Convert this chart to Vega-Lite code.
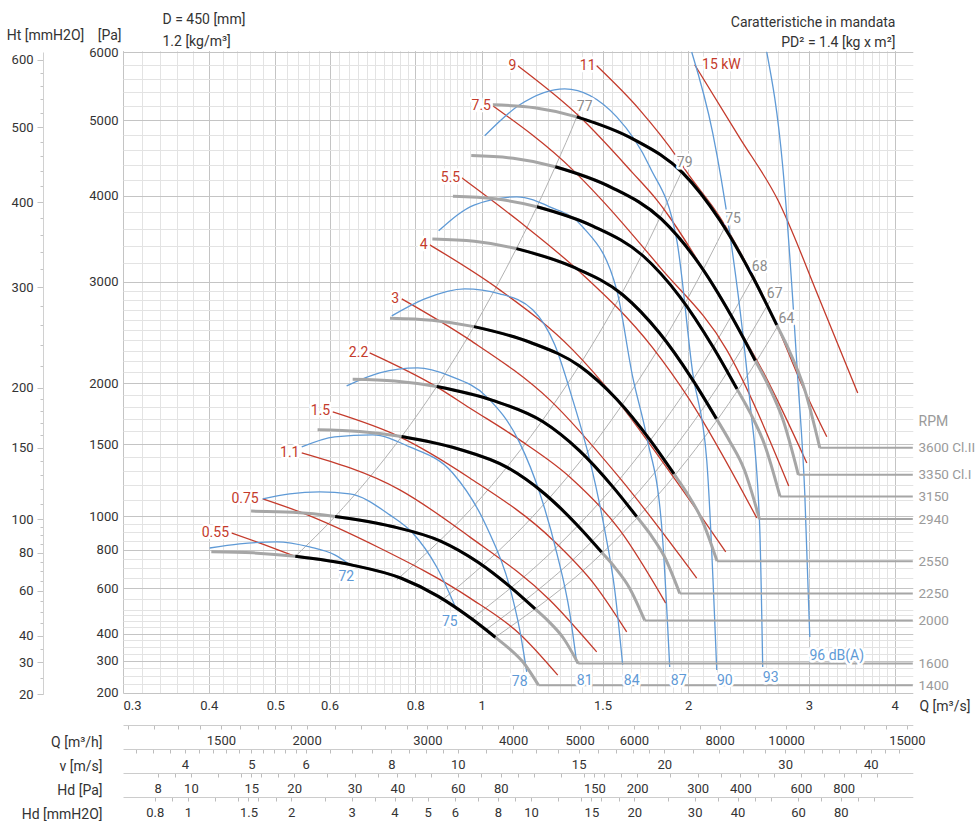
{
"$schema": "https://vega.github.io/schema/vega-lite/v6.json",
"width": 772, "height": 641,
"autosize": {"type": "none"},
"padding": {"left": 123, "top": 52, "right": 81, "bottom": 128},
"background": "white",
"config": {"font": "Roboto", "view": {"stroke": null}, "axis": {"labelFont": "Roboto", "titleFont": "Roboto"}},
"datasets": {
"fan": [
{"r":"3600","q":1.0376,"p":5219},{"r":"3600","q":1.1948,"p":5177},{"r":"3600","q":1.3757,"p":5049},{"r":"3600","q":1.6598,"p":4745},{"r":"3600","q":1.9634,"p":4293},{"r":"3600","q":2.2228,"p":3706},{"r":"3600","q":2.4831,"p":3053},{"r":"3600","q":2.6917,"p":2550},{"r":"3600","q":2.8121,"p":2289},{"r":"3600","q":2.9573,"p":1943},{"r":"3600","q":3.1105,"p":1471},
{"r":"3350","q":0.96554,"p":4519},{"r":"3350","q":1.11183,"p":4483},{"r":"3350","q":1.28016,"p":4373},{"r":"3350","q":1.54454,"p":4108},{"r":"3350","q":1.82705,"p":3717},{"r":"3350","q":2.06844,"p":3210},{"r":"3350","q":2.31066,"p":2643},{"r":"3350","q":2.50478,"p":2208},{"r":"3350","q":2.61682,"p":1982},{"r":"3350","q":2.75193,"p":1683},{"r":"3350","q":2.8945,"p":1273.5},
{"r":"3150","q":0.9079,"p":3995},{"r":"3150","q":1.04545,"p":3963},{"r":"3150","q":1.20374,"p":3866},{"r":"3150","q":1.45233,"p":3632},{"r":"3150","q":1.71798,"p":3287},{"r":"3150","q":1.94495,"p":2838},{"r":"3150","q":2.17271,"p":2337},{"r":"3150","q":2.35524,"p":1952},{"r":"3150","q":2.46059,"p":1752},{"r":"3150","q":2.58764,"p":1488},{"r":"3150","q":2.72169,"p":1126},
{"r":"2940","q":0.84737,"p":3480},{"r":"2940","q":0.97575,"p":3453},{"r":"2940","q":1.12349,"p":3368},{"r":"2940","q":1.3555,"p":3164},{"r":"2940","q":1.60344,"p":2863},{"r":"2940","q":1.81529,"p":2472},{"r":"2940","q":2.02787,"p":2036},{"r":"2940","q":2.19822,"p":1701},{"r":"2940","q":2.29655,"p":1526},{"r":"2940","q":2.41513,"p":1308},{"r":"2940","q":2.54024,"p":980.9},
{"r":"2550","q":0.73497,"p":2618},{"r":"2550","q":0.84632,"p":2597},{"r":"2550","q":0.97446,"p":2533},{"r":"2550","q":1.17569,"p":2380},{"r":"2550","q":1.39074,"p":2154},{"r":"2550","q":1.57448,"p":1860},{"r":"2550","q":1.75886,"p":1532},{"r":"2550","q":1.90662,"p":1280},{"r":"2550","q":1.9919,"p":1148},{"r":"2550","q":2.09476,"p":975},{"r":"2550","q":2.20327,"p":737.9},
{"r":"2250","q":0.6485,"p":2038},{"r":"2250","q":0.74675,"p":2022},{"r":"2250","q":0.85981,"p":1972},{"r":"2250","q":1.03738,"p":1853},{"r":"2250","q":1.22713,"p":1677},{"r":"2250","q":1.38925,"p":1448},{"r":"2250","q":1.55194,"p":1192},{"r":"2250","q":1.68231,"p":996},{"r":"2250","q":1.75756,"p":894},{"r":"2250","q":1.84831,"p":759},{"r":"2250","q":1.94406,"p":574.5},
{"r":"2000","q":0.57644,"p":1611},{"r":"2000","q":0.66378,"p":1598},{"r":"2000","q":0.76428,"p":1558},{"r":"2000","q":0.92211,"p":1464},{"r":"2000","q":1.09078,"p":1325},{"r":"2000","q":1.23489,"p":1144},{"r":"2000","q":1.3795,"p":942},{"r":"2000","q":1.49539,"p":787},{"r":"2000","q":1.56228,"p":706},{"r":"2000","q":1.64294,"p":600},{"r":"2000","q":1.72806,"p":453.9},
{"r":"1600","q":0.46116,"p":1031},{"r":"1600","q":0.53102,"p":1023},{"r":"1600","q":0.61142,"p":997},{"r":"1600","q":0.73769,"p":937},{"r":"1600","q":0.87262,"p":848},{"r":"1600","q":0.98791,"p":732},{"r":"1600","q":1.1036,"p":603},{"r":"1600","q":1.19631,"p":504},{"r":"1600","q":1.24982,"p":452},{"r":"1600","q":1.31436,"p":384},{"r":"1600","q":1.38244,"p":290.5},
{"r":"1400","q":0.40351,"p":789},{"r":"1400","q":0.46464,"p":783},{"r":"1400","q":0.53499,"p":764},{"r":"1400","q":0.64548,"p":718},{"r":"1400","q":0.76354,"p":649},{"r":"1400","q":0.86442,"p":561},{"r":"1400","q":0.96565,"p":462},{"r":"1400","q":1.04677,"p":386},{"r":"1400","q":1.09359,"p":346},{"r":"1400","q":1.15006,"p":294},{"r":"1400","q":1.20964,"p":222.4}
],
"blk": [
{"r":"3600","q":1.3757,"p":5049},{"r":"3600","q":1.6598,"p":4745},{"r":"3600","q":1.9634,"p":4293},{"r":"3600","q":2.2228,"p":3706},{"r":"3600","q":2.4831,"p":3053},{"r":"3600","q":2.6917,"p":2550},
{"r":"3350","q":1.28016,"p":4373},{"r":"3350","q":1.54454,"p":4108},{"r":"3350","q":1.82705,"p":3717},{"r":"3350","q":2.06844,"p":3210},{"r":"3350","q":2.31066,"p":2643},{"r":"3350","q":2.50478,"p":2208},
{"r":"3150","q":1.20374,"p":3866},{"r":"3150","q":1.45233,"p":3632},{"r":"3150","q":1.71798,"p":3287},{"r":"3150","q":1.94495,"p":2838},{"r":"3150","q":2.17271,"p":2337},{"r":"3150","q":2.35524,"p":1952},
{"r":"2940","q":1.12349,"p":3368},{"r":"2940","q":1.3555,"p":3164},{"r":"2940","q":1.60344,"p":2863},{"r":"2940","q":1.81529,"p":2472},{"r":"2940","q":2.02787,"p":2036},{"r":"2940","q":2.19822,"p":1701},
{"r":"2550","q":0.97446,"p":2533},{"r":"2550","q":1.17569,"p":2380},{"r":"2550","q":1.39074,"p":2154},{"r":"2550","q":1.57448,"p":1860},{"r":"2550","q":1.75886,"p":1532},{"r":"2550","q":1.90662,"p":1280},
{"r":"2250","q":0.85981,"p":1972},{"r":"2250","q":1.03738,"p":1853},{"r":"2250","q":1.22713,"p":1677},{"r":"2250","q":1.38925,"p":1448},{"r":"2250","q":1.55194,"p":1192},{"r":"2250","q":1.68231,"p":996},
{"r":"2000","q":0.76428,"p":1558},{"r":"2000","q":0.92211,"p":1464},{"r":"2000","q":1.09078,"p":1325},{"r":"2000","q":1.23489,"p":1144},{"r":"2000","q":1.3795,"p":942},{"r":"2000","q":1.49539,"p":787},
{"r":"1600","q":0.61142,"p":997},{"r":"1600","q":0.73769,"p":937},{"r":"1600","q":0.87262,"p":848},{"r":"1600","q":0.98791,"p":732},{"r":"1600","q":1.1036,"p":603},{"r":"1600","q":1.19631,"p":504},
{"r":"1400","q":0.53499,"p":764},{"r":"1400","q":0.64548,"p":718},{"r":"1400","q":0.76354,"p":649},{"r":"1400","q":0.86442,"p":561},{"r":"1400","q":0.96565,"p":462},{"r":"1400","q":1.04677,"p":386}
],
"lead": [
{"r":"3600","q":3.1105,"p":1471},{"r":"3600","q":4.25,"p":1471},
{"r":"3350","q":2.8945,"p":1273.5},{"r":"3350","q":4.25,"p":1273.5},
{"r":"3150","q":2.72169,"p":1126},{"r":"3150","q":4.25,"p":1126},
{"r":"2940","q":2.54024,"p":980.9},{"r":"2940","q":4.25,"p":980.9},
{"r":"2550","q":2.20327,"p":737.9},{"r":"2550","q":4.25,"p":737.9},
{"r":"2250","q":1.94406,"p":574.5},{"r":"2250","q":4.25,"p":574.5},
{"r":"2000","q":1.72806,"p":453.9},{"r":"2000","q":4.25,"p":453.9},
{"r":"1600","q":1.38244,"p":290.5},{"r":"1600","q":4.25,"p":290.5},
{"r":"1400","q":1.20964,"p":222.4},{"r":"1400","q":4.25,"p":222.4}
],
"kw": [
{"kw":"0.55","q":0.4321,"p":897},{"kw":"0.55","q":0.4828,"p":828},{"kw":"0.55","q":0.5375,"p":761},
{"kw":"0.75","q":0.4795,"p":1110},{"kw":"0.75","q":0.5429,"p":1026},{"kw":"0.75","q":0.71,"p":810},{"kw":"0.75","q":0.9605,"p":554},{"kw":"0.75","q":1.1361,"p":399},{"kw":"0.75","q":1.2908,"p":253},
{"kw":"1.1","q":0.5466,"p":1433},{"kw":"1.1","q":0.7595,"p":1170},{"kw":"1.1","q":0.9605,"p":874},{"kw":"1.1","q":1.2565,"p":544},{"kw":"1.1","q":1.4711,"p":331},
{"kw":"1.5","q":0.6065,"p":1756},{"kw":"1.5","q":0.7595,"p":1556},{"kw":"1.5","q":0.9605,"p":1252},{"kw":"1.5","q":1.2693,"p":856},{"kw":"1.5","q":1.4613,"p":616},{"kw":"1.5","q":1.6268,"p":407},
{"kw":"2.2","q":0.6865,"p":2279},{"kw":"2.2","q":0.8598,"p":1970},{"kw":"2.2","q":0.9605,"p":1789},{"kw":"2.2","q":1.1361,"p":1532},{"kw":"2.2","q":1.3437,"p":1259},{"kw":"2.2","q":1.5889,"p":915},{"kw":"2.2","q":1.8544,"p":530},
{"kw":"3","q":0.7646,"p":2817},{"kw":"3","q":0.9605,"p":2403},{"kw":"3","q":1.2565,"p":1857},{"kw":"3","q":1.5889,"p":1252},{"kw":"3","q":2.0577,"p":650},
{"kw":"4","q":0.8398,"p":3412},{"kw":"4","q":1.0623,"p":2912},{"kw":"4","q":1.3574,"p":2307},{"kw":"4","q":1.5731,"p":1857},{"kw":"4","q":1.8795,"p":1295},{"kw":"4","q":2.2682,"p":788},
{"kw":"5.5","q":0.935,"p":4229},{"kw":"5.5","q":1.1361,"p":3682},{"kw":"5.5","q":1.3897,"p":3107},{"kw":"5.5","q":1.7754,"p":2326},{"kw":"5.5","q":2.01,"p":1857},{"kw":"5.5","q":2.5171,"p":988},
{"kw":"7.5","q":1.0376,"p":5205},{"kw":"7.5","q":1.3574,"p":4332},{"kw":"7.5","q":1.4959,"p":3951},{"kw":"7.5","q":1.8176,"p":3162},{"kw":"7.5","q":2.2758,"p":2307},{"kw":"7.5","q":2.8024,"p":1197},
{"kw":"9","q":1.1285,"p":5791},{"kw":"9","q":1.3897,"p":5049},{"kw":"9","q":1.6598,"p":4293},{"kw":"9","q":1.7993,"p":3951},{"kw":"9","q":2.2228,"p":2838},{"kw":"9","q":2.5855,"p":2076},{"kw":"9","q":2.9778,"p":1359},
{"kw":"11","q":1.4711,"p":5791},{"kw":"11","q":1.6993,"p":5148},{"kw":"11","q":1.9243,"p":4503},{"kw":"11","q":1.9897,"p":4306},{"kw":"11","q":2.2228,"p":3743},{"kw":"11","q":2.4587,"p":3129},{"kw":"11","q":2.6917,"p":2550},{"kw":"11","q":2.9083,"p":2031},{"kw":"11","q":3.1844,"p":1556},
{"kw":"15","q":2.044,"p":5806},{"kw":"15","q":2.3772,"p":4759},{"kw":"15","q":2.701,"p":3951},{"kw":"15","q":3.1105,"p":2806},{"kw":"15","q":3.5326,"p":1917}
],
"db": [
{"db":"72","q":0.4013,"p":810},{"db":"72","q":0.4437,"p":833},{"db":"72","q":0.5025,"p":845},{"db":"72","q":0.5614,"p":816},{"db":"72","q":0.6106,"p":772},{"db":"72","q":0.6463,"p":712},
{"db":"75","q":0.4795,"p":1110},{"db":"75","q":0.525,"p":1143},{"db":"75","q":0.5805,"p":1156},{"db":"75","q":0.642,"p":1143},{"db":"75","q":0.7345,"p":1007},{"db":"75","q":0.7932,"p":897},{"db":"75","q":0.8598,"p":707},{"db":"75","q":0.9196,"p":499},
{"db":"78","q":0.5466,"p":1478},{"db":"78","q":0.6106,"p":1556},{"db":"78","q":0.6935,"p":1571},{"db":"78","q":0.7853,"p":1478},{"db":"78","q":0.9072,"p":1287},{"db":"78","q":1.0169,"p":933},{"db":"78","q":1.0985,"p":606},{"db":"78","q":1.1361,"p":415},{"db":"78","q":1.1631,"p":263},
{"db":"81","q":0.6355,"p":1978},{"db":"81","q":0.71,"p":2094},{"db":"81","q":0.8066,"p":2139},{"db":"81","q":0.8984,"p":2067},{"db":"81","q":1.0169,"p":1883},{"db":"81","q":1.1361,"p":1509},{"db":"81","q":1.215,"p":1149},{"db":"81","q":1.2864,"p":783},{"db":"81","q":1.3437,"p":486},{"db":"81","q":1.3757,"p":292},
{"db":"84","q":0.7395,"p":2641},{"db":"84","q":0.8259,"p":2817},{"db":"84","q":0.9445,"p":2923},{"db":"84","q":1.0623,"p":2870},{"db":"84","q":1.1867,"p":2703},{"db":"84","q":1.2778,"p":2355},{"db":"84","q":1.3574,"p":1857},{"db":"84","q":1.4369,"p":1381},{"db":"84","q":1.5111,"p":915},{"db":"84","q":1.5628,"p":591},{"db":"84","q":1.605,"p":286},
{"db":"87","q":0.8655,"p":3575},{"db":"87","q":0.9768,"p":3889},{"db":"87","q":1.1246,"p":3988},{"db":"87","q":1.2565,"p":3864},{"db":"87","q":1.4035,"p":3623},{"db":"87","q":1.5731,"p":2912},{"db":"87","q":1.6598,"p":2058},{"db":"87","q":1.7398,"p":1556},{"db":"87","q":1.8298,"p":933},{"db":"87","q":1.8795,"p":279},
{"db":"90","q":1.0101,"p":4786},{"db":"90","q":1.1361,"p":5219},{"db":"90","q":1.3213,"p":5450},{"db":"90","q":1.5731,"p":5049},{"db":"90","q":1.7575,"p":4372},{"db":"90","q":1.9243,"p":3470},{"db":"90","q":2.0303,"p":2094},{"db":"90","q":2.1281,"p":1381},{"db":"90","q":2.2008,"p":269},
{"db":"93","q":2.0235,"p":6000},{"db":"93","q":2.1712,"p":4827},{"db":"93","q":2.2987,"p":3551},{"db":"93","q":2.4014,"p":2471},{"db":"93","q":2.4587,"p":1857},{"db":"93","q":2.5422,"p":933},{"db":"93","q":2.5681,"p":279},
{"db":"96","q":2.6032,"p":6000},{"db":"96","q":2.7468,"p":4372},{"db":"96","q":2.8407,"p":2806},{"db":"96","q":2.8883,"p":2049},{"db":"96","q":2.9573,"p":1149},{"db":"96","q":3.0077,"p":387}
],
"eff": [
{"e":"77","q":0.53499,"p":764},{"e":"77","q":0.61142,"p":997},{"e":"77","q":0.76428,"p":1558},{"e":"77","q":0.85981,"p":1972},{"e":"77","q":0.97446,"p":2533},{"e":"77","q":1.12349,"p":3368},{"e":"77","q":1.20374,"p":3866},{"e":"77","q":1.28016,"p":4373},{"e":"77","q":1.3757,"p":5049},{"e":"77","q":1.395,"p":5200},
{"e":"79","q":0.752,"p":641},{"e":"79","q":1.0,"p":1122},{"e":"79","q":1.3,"p":1897},{"e":"79","q":1.6,"p":2873},{"e":"79","q":1.955,"p":4300},
{"e":"75","q":0.8685,"p":534},{"e":"75","q":1.2,"p":1019},{"e":"75","q":1.6,"p":1811},{"e":"75","q":2.0,"p":2830},{"e":"75","q":2.28,"p":3678},
{"e":"68","q":0.9703,"p":464},{"e":"68","q":1.3,"p":833},{"e":"68","q":1.7,"p":1424},{"e":"68","q":2.1,"p":2173},{"e":"68","q":2.49,"p":3056},
{"e":"67","q":1.017,"p":418},{"e":"67","q":1.4,"p":792},{"e":"67","q":1.9,"p":1458},{"e":"67","q":2.3,"p":2137},{"e":"67","q":2.63,"p":2794},
{"e":"64","q":1.04677,"p":386},{"e":"64","q":1.5,"p":783},{"e":"64","q":2.0,"p":1391},{"e":"64","q":2.4,"p":2003},{"e":"64","q":2.71,"p":2554}
],
"lab": [
{"t":"0.55","k":"kw","q":0.409,"p":899},{"t":"0.75","k":"kw","q":0.4519,"p":1108},{"t":"1.1","k":"kw","q":0.525,"p":1436},{"t":"1.5","k":"kw","q":0.5821,"p":1767},{"t":"2.2","k":"kw","q":0.6614,"p":2276},{"t":"3","k":"kw","q":0.7478,"p":2814},{"t":"4","k":"kw","q":0.8233,"p":3412},{"t":"5.5","k":"kw","q":0.9006,"p":4225},{"t":"7.5","k":"kw","q":0.9984,"p":5205},{"t":"9","k":"kw","q":1.1089,"p":5791},{"t":"11","k":"kw","q":1.4274,"p":5791},{"t":"15 kW","k":"kw","q":2.2355,"p":5806},
{"t":"72","k":"db","q":0.6349,"p":657},{"t":"75","k":"db","q":0.8984,"p":449},{"t":"78","k":"db","q":1.1361,"p":232},{"t":"81","k":"db","q":1.413,"p":235},{"t":"84","k":"db","q":1.6544,"p":235},{"t":"87","k":"db","q":1.9372,"p":235},{"t":"90","k":"db","q":2.2612,"p":235},{"t":"93","k":"db","q":2.6383,"p":244},{"t":"96 dB(A)","k":"db","q":3.293,"p":317},
{"t":"77","k":"eff","q":1.413,"p":5191},{"t":"79","k":"eff","q":1.9767,"p":4420},{"t":"75","k":"eff","q":2.3244,"p":3715},{"t":"68","k":"eff","q":2.5422,"p":3166},{"t":"67","k":"eff","q":2.6737,"p":2870},{"t":"64","k":"eff","q":2.7812,"p":2608}
]
},
"layer": [
{"data": {"name": "eff"}, "mark": {"type": "line", "color": "#b2b2b2", "strokeWidth": 1, "interpolate": "monotone"},
 "encoding": {
  "x": {"field": "q", "type": "quantitative", "scale": {"type": "log", "domain": [0.3, 4.25], "range": [0, 789.8], "nice": false},
   "axis": {"orient": "top", "labels": false, "ticks": false, "domain": false, "grid": false, "title": "Caratteristiche in mandata", "titleX": 772, "titleY": -30, "titleAlign": "right", "titleBaseline": "middle", "titleAngle": 0, "titleFontSize": 14, "titleFontWeight": "normal", "titleColor": "#333"}},
  "y": {"field": "p", "type": "quantitative", "scale": {"type": "sqrt", "domain": [196, 6000], "range": [642.4, 0], "zero": false, "nice": false}, "axis": null},
  "detail": {"field": "e"}}},
{"data": {"name": "kw"}, "mark": {"type": "line", "color": "#c43b2c", "strokeWidth": 1.3, "interpolate": "monotone"},
 "encoding": {
  "x": {"field": "q", "type": "quantitative", "scale": {"type": "log", "domain": [0.3, 4.25], "range": [0, 789.8], "nice": false},
   "axis": {"orient": "bottom", "offset": 80, "values": [0.33703,0.35748,0.37681,0.41278,0.44586,0.4615,0.47664,0.50555,0.53289,0.5958,0.65266,0.70495,0.75363,0.79934,0.84258,0.923,0.99695,1.06579,1.13044,1.19158,1.30532,1.40991,1.45939,1.50725,1.59868,1.68516,1.88406,2.06389,2.22926,2.38318,2.52774,2.66447,2.91878,3.15264,3.37032,3.57476,3.76813],
    "labelExpr": "indexof([0.33703,0.37681,0.4615,0.53289,0.65266,0.75363,0.923,1.06579,1.45939,1.68516,2.06389,2.38318,2.91878,3.37032], datum.value) >= 0 ? format(pow(datum.value/0.0923,2)*0.6, '.0f') : ''",
    "grid": false, "domain": true, "domainColor": "#cccccc", "ticks": true, "tickColor": "#bdbdbd", "tickSize": 4, "labelOverlap": false, "labelFlush": false, "labelPadding": 5, "labelFontSize": 13, "labelColor": "#333",
    "title": "Hd [Pa]", "titleX": -21, "titleY": 17, "titleAlign": "right", "titleBaseline": "middle", "titleAngle": 0, "titleFontSize": 14, "titleFontWeight": "normal", "titleColor": "#333"}},
  "y": {"field": "p", "type": "quantitative", "scale": {"type": "sqrt", "domain": [196, 6000], "range": [642.4, 0], "zero": false, "nice": false}, "axis": null},
  "detail": {"field": "kw"}}},
{"data": {"name": "db"}, "mark": {"type": "line", "color": "#5f9ad6", "strokeWidth": 1.3, "interpolate": "monotone"},
 "encoding": {
  "x": {"field": "q", "type": "quantitative", "scale": {"type": "log", "domain": [0.3, 4.25], "range": [0, 789.8], "nice": false},
   "axis": {"orient": "bottom", "offset": 104, "values": [0.33375,0.354,0.37315,0.40877,0.44152,0.45702,0.472,0.50064,0.52772,0.59,0.64632,0.6981,0.7463,0.79157,0.83439,0.91403,0.98727,1.05543,1.11945,1.18001,1.29263,1.3962,1.4452,1.4926,1.58314,1.66878,1.86575,2.04383,2.20759,2.36001,2.50317,2.63858,2.89042,3.122,3.33756,3.54002,3.7315],
    "labelExpr": "indexof([0.33375,0.37315,0.45702,0.52772,0.64632,0.7463,0.83439,0.91403,1.05543,1.18001,1.4452,1.66878,2.04383,2.36001,2.89042,3.33756], datum.value) >= 0 ? format(pow(datum.value/0.37315,2), '.2~g') : ''",
    "grid": false, "domain": true, "domainColor": "#cccccc", "ticks": true, "tickColor": "#bdbdbd", "tickSize": 4, "labelOverlap": false, "labelFlush": false, "labelPadding": 5, "labelFontSize": 13, "labelColor": "#333",
    "title": "Hd [mmH2O]", "titleX": -21, "titleY": 17, "titleAlign": "right", "titleBaseline": "middle", "titleAngle": 0, "titleFontSize": 14, "titleFontWeight": "normal", "titleColor": "#333"}},
  "y": {"field": "p", "type": "quantitative", "scale": {"type": "sqrt", "domain": [196, 6000], "range": [642.4, 0], "zero": false, "nice": false}, "axis": null},
  "detail": {"field": "db"}}},
{"data": {"name": "fan"}, "mark": {"type": "line", "color": "#a6a6a6", "strokeWidth": 3, "interpolate": "monotone"},
 "encoding": {
  "x": {"field": "q", "type": "quantitative", "scale": {"type": "log", "domain": [0.3, 4.25], "range": [0, 789.8], "nice": false},
   "axis": {"orient": "bottom", "values": [0.3,0.32,0.34,0.36,0.38,0.4,0.42,0.44,0.46,0.48,0.5,0.52,0.54,0.56,0.58,0.6,0.62,0.64,0.66,0.68,0.7,0.72,0.74,0.76,0.78,0.8,0.82,0.84,0.86,0.88,0.9,0.92,0.94,0.96,0.98,1,1.05,1.1,1.15,1.2,1.25,1.3,1.35,1.4,1.45,1.5,1.55,1.6,1.65,1.7,1.75,1.8,1.85,1.9,1.95,2,2.1,2.2,2.3,2.4,2.5,2.6,2.7,2.8,2.9,3,3.1,3.2,3.3,3.4,3.5,3.6,3.7,3.8,3.9,4],
    "grid": true, "gridColor": {"condition": {"test": "indexof([0.3,0.4,0.5,0.6,0.8,1,1.5,2,3,4], datum.value) >= 0", "value": "#c4c4c4"}, "value": "#e3e3e3"},
    "labelExpr": "indexof([0.3,0.4,0.5,0.6,0.8,1,1.5,2,3,4], datum.value) >= 0 ? datum.label : ''", "format": "~g",
    "ticks": false, "domain": false, "labelOverlap": false, "labelPadding": 6, "labelFontSize": 13, "labelColor": "#333",
    "title": "Q [m³/s]", "titleX": 796, "titleY": 13, "titleAlign": "left", "titleBaseline": "middle", "titleAngle": 0, "titleFontSize": 14, "titleFontWeight": "normal", "titleColor": "#333"}},
  "y": {"field": "p", "type": "quantitative", "scale": {"type": "sqrt", "domain": [196, 6000], "range": [642.4, 0], "zero": false, "nice": false},
   "axis": {"orient": "left", "values": [200,225,250,275,300,325,350,375,400,425,450,475,500,550,600,650,700,750,800,850,900,950,1000,1100,1200,1300,1400,1500,1600,1700,1800,1900,2000,2100,2200,2300,2400,2500,2600,2700,2800,2900,3000,3200,3400,3600,3800,4000,4200,4400,4600,4800,5000,5200,5400,5600,5800,6000],
    "grid": true, "gridColor": {"condition": {"test": "indexof([200,300,400,600,800,1000,1500,2000,3000,4000,5000,6000], datum.value) >= 0", "value": "#c4c4c4"}, "value": "#e3e3e3"},
    "labelExpr": "indexof([200,300,400,600,800,1000,1500,2000,3000,4000,5000,6000], datum.value) >= 0 ? datum.label : ''", "format": "d",
    "ticks": false, "domain": false, "labelOverlap": false, "labelPadding": 5, "labelFontSize": 13, "labelColor": "#333",
    "title": "[Pa]", "titleX": -2, "titleY": -17, "titleAlign": "right", "titleBaseline": "middle", "titleAngle": 0, "titleFontSize": 14, "titleFontWeight": "normal", "titleColor": "#333"}},
  "detail": {"field": "r"}}},
{"data": {"name": "lead"}, "mark": {"type": "line", "color": "#a6a6a6", "strokeWidth": 2},
 "encoding": {
  "x": {"field": "q", "type": "quantitative", "scale": {"type": "log", "domain": [0.3, 4.25], "range": [0, 789.8], "nice": false},
   "axis": {"orient": "bottom", "offset": 32, "values": [0.30556,0.33333,0.36111,0.38889,0.41667,0.44444,0.47222,0.5,0.52778,0.55556,0.61111,0.66667,0.72222,0.77778,0.83333,0.88889,0.94444,1,1.05556,1.11111,1.25,1.38889,1.52778,1.66667,1.80556,1.94444,2.08333,2.22222,2.5,2.77778,3.05556,3.33333,3.61111,3.88889,4.16667],
    "labelExpr": "indexof([0.41667,0.55556,0.83333,1.11111,1.38889,1.66667,2.22222,2.77778,4.16667], datum.value) >= 0 ? format(datum.value*3600, '.0f') : ''",
    "grid": false, "domain": true, "domainColor": "#cccccc", "ticks": true, "tickColor": "#bdbdbd", "tickSize": 4, "labelOverlap": false, "labelFlush": false, "labelPadding": 5, "labelFontSize": 13, "labelColor": "#333",
    "title": "Q [m³/h]", "titleX": -21, "titleY": 17, "titleAlign": "right", "titleBaseline": "middle", "titleAngle": 0, "titleFontSize": 14, "titleFontWeight": "normal", "titleColor": "#333"}},
  "y": {"field": "p", "type": "quantitative", "scale": {"type": "sqrt", "domain": [196, 6000], "range": [642.4, 0], "zero": false, "nice": false},
   "axis": {"orient": "left", "offset": 80, "values": [196.133,245.166,294.2,343.233,392.266,441.299,490.333,539.366,588.399,637.432,686.466,735.499,784.532,833.565,882.599,931.632,980.665,1078.73,1176.8,1274.86,1372.93,1471,1569.06,1667.13,1765.2,1863.26,1961.33,2157.46,2353.6,2549.73,2745.86,2942,3138.13,3334.26,3530.39,3726.53,3922.66,4118.79,4314.93,4511.06,4707.19,4903.33,5099.46,5295.59,5491.72,5687.86,5883.99],
    "labelExpr": "indexof([196.133,294.2,392.266,588.399,784.532,980.665,1471,1961.33,2942,3922.66,4903.33,5883.99], datum.value) >= 0 ? format(datum.value/9.80665, '.0f') : ''",
    "tickSize": {"condition": {"test": "indexof([196.133,294.2,392.266,588.399,784.532,980.665,1471,1961.33,2942,3922.66,4903.33,5883.99], datum.value) >= 0", "value": 6}, "value": 3},
    "grid": false, "domain": true, "domainColor": "#d0d0d0", "ticks": true, "tickColor": "#c4c4c4", "labelOverlap": false, "labelPadding": 4, "labelFontSize": 13, "labelColor": "#333",
    "title": "Ht [mmH2O]", "titleX": 2, "titleY": -17, "titleAlign": "center", "titleBaseline": "middle", "titleAngle": 0, "titleFontSize": 14, "titleFontWeight": "normal", "titleColor": "#333"}},
  "detail": {"field": "r"}}},
{"data": {"name": "blk"}, "mark": {"type": "line", "color": "#000000", "strokeWidth": 3, "interpolate": "monotone"},
 "encoding": {
  "x": {"field": "q", "type": "quantitative", "scale": {"type": "log", "domain": [0.3, 4.25], "range": [0, 789.8], "nice": false},
   "axis": {"orient": "bottom", "offset": 56, "values": [0.3138,0.3323,0.3507,0.3692,0.3877,0.4061,0.4246,0.443,0.4615,0.48,0.4984,0.5169,0.5353,0.5538,0.6,0.6461,0.6923,0.7384,0.7846,0.8307,0.8769,0.923,1.0153,1.1076,1.1999,1.2922,1.3845,1.4768,1.5691,1.6614,1.7537,1.846,2.0306,2.2152,2.3998,2.5844,2.769,2.9536,3.1382,3.3228,3.5074,3.692,3.8766,4.0612],
    "labelExpr": "indexof([0.3692,0.4615,0.5538,0.7384,0.923,1.3845,1.846,2.769,3.692], datum.value) >= 0 ? format(datum.value/0.0923, '.0f') : ''",
    "grid": false, "domain": true, "domainColor": "#cccccc", "ticks": true, "tickColor": "#bdbdbd", "tickSize": 4, "labelOverlap": false, "labelFlush": false, "labelPadding": 5, "labelFontSize": 13, "labelColor": "#333",
    "title": "v [m/s]", "titleX": -21, "titleY": 17, "titleAlign": "right", "titleBaseline": "middle", "titleAngle": 0, "titleFontSize": 14, "titleFontWeight": "normal", "titleColor": "#333"}},
  "y": {"field": "p", "type": "quantitative", "scale": {"type": "sqrt", "domain": [196, 6000], "range": [642.4, 0], "zero": false, "nice": false},
   "axis": {"orient": "right", "values": [222.4,290.5,453.9,574.5,737.9,980.9,1126,1273.5,1471],
    "labelExpr": "datum.value==1471?'3600 Cl.II':datum.value==1273.5?'3350 Cl.I':datum.value==1126?'3150':datum.value==980.9?'2940':datum.value==737.9?'2550':datum.value==574.5?'2250':datum.value==453.9?'2000':datum.value==290.5?'1600':'1400'",
    "grid": false, "ticks": false, "domain": false, "labelOverlap": false, "labelPadding": 23, "labelAlign": "left", "labelFontSize": 13.5, "labelColor": "#9a9a9a",
    "title": "RPM", "titleX": 23, "titleY": 369, "titleAlign": "left", "titleBaseline": "middle", "titleAngle": 0, "titleFontSize": 14, "titleFontWeight": "normal", "titleColor": "#9a9a9a"}},
  "detail": {"field": "r"}}},
{"data": {"name": "lab"}, "mark": {"type": "text", "font": "Roboto", "fontSize": 14, "align": "center", "baseline": "middle", "fill": "white", "stroke": "white", "strokeWidth": 5, "strokeJoin": "round"},
 "encoding": {
  "x": {"field": "q", "type": "quantitative", "scale": {"type": "log", "domain": [0.3, 4.25], "range": [0, 789.8], "nice": false},
   "axis": {"orient": "top", "labels": false, "ticks": false, "domain": false, "grid": false, "title": "PD² = 1.4 [kg x m²]", "titleX": 772, "titleY": -10, "titleAlign": "right", "titleBaseline": "middle", "titleAngle": 0, "titleFontSize": 14, "titleFontWeight": "normal", "titleColor": "#333"}},
  "y": {"field": "p", "type": "quantitative", "scale": {"type": "sqrt", "domain": [196, 6000], "range": [642.4, 0], "zero": false, "nice": false},
   "axis": {"orient": "left", "labels": false, "ticks": false, "domain": false, "grid": false, "title": "D = 450 [mm]", "titleX": 39, "titleY": -33, "titleAlign": "left", "titleBaseline": "middle", "titleAngle": 0, "titleFontSize": 14, "titleFontWeight": "normal", "titleColor": "#333"}},
  "text": {"field": "t"}}},
{"data": {"name": "lab"}, "mark": {"type": "text", "font": "Roboto", "fontSize": 14, "align": "center", "baseline": "middle"},
 "encoding": {
  "x": {"field": "q", "type": "quantitative", "scale": {"type": "log", "domain": [0.3, 4.25], "range": [0, 789.8], "nice": false}, "axis": null},
  "y": {"field": "p", "type": "quantitative", "scale": {"type": "sqrt", "domain": [196, 6000], "range": [642.4, 0], "zero": false, "nice": false},
   "axis": {"orient": "left", "labels": false, "ticks": false, "domain": false, "grid": false, "title": "1.2 [kg/m³]", "titleX": 39, "titleY": -11, "titleAlign": "left", "titleBaseline": "middle", "titleAngle": 0, "titleFontSize": 14, "titleFontWeight": "normal", "titleColor": "#333"}},
  "text": {"field": "t"},
  "color": {"field": "k", "type": "nominal", "scale": {"domain": ["kw", "db", "eff"], "range": ["#c43b2c", "#5f9ad6", "#8c8c8c"]}, "legend": null}}}
],
"resolve": {"axis": {"x": "independent", "y": "independent"}}
}
